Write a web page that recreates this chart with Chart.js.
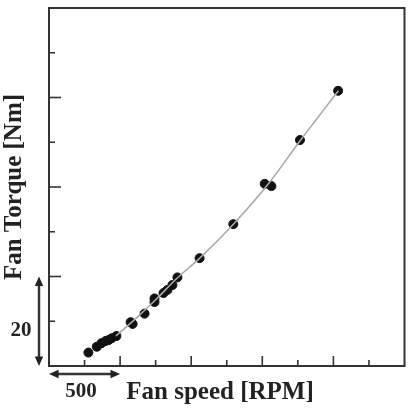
<!DOCTYPE html>
<html>
<head>
<meta charset="utf-8">
<script src="https://cdn.jsdelivr.net/npm/chart.js@4/dist/chart.umd.min.js"></script>
<style>
  html, body { margin: 0; padding: 0; background: #fff; }
  #wrap { width: 410px; height: 408px; }
</style>
</head>
<body>
<div id="wrap"><canvas id="fanChart"></canvas></div>
<script>
// Fan torque vs fan speed: measured points + fitted curve

const speedRpm = [277, 336, 369, 399, 420, 441, 474, 574, 588, 672, 742, 742, 805, 833, 868, 903, 1059, 1296, 1517, 1564, 1765, 2033];
const torqueNm = [3.0, 4.3, 5.1, 5.6, 5.8, 6.2, 6.7, 9.8, 9.4, 11.7, 15.1, 14.3, 16.3, 17.0, 18.1, 19.8, 24.1, 31.7, 40.7, 40.2, 50.5, 61.5];

const fitSpeed = [470, 600, 750, 900, 1060, 1300, 1540, 1770, 2035];
const fitTorque = [6.7, 10.3, 14.8, 19.6, 24.1, 31.8, 40.6, 50.5, 61.5];

const xTitle = 'Fan speed [RPM]';
const yTitle = 'Fan Torque [Nm]';
const xScaleBar = 500;  // RPM shown by the horizontal arrow
const yScaleBar = 20;   // Nm shown by the vertical arrow

const ink = '#222';
const numFont = 'bold 21px "Liberation Serif", "DejaVu Serif", serif';
const titleFont = 'bold 25px "Liberation Serif", "DejaVu Serif", serif';

function arrowHead(ctx, x, y, dir) {
  // dir: 'up','down','left','right'
  const s = 6;
  ctx.beginPath();
  if (dir === 'up') { ctx.moveTo(x, y); ctx.lineTo(x - s * 0.7, y + s * 1.6); ctx.lineTo(x + s * 0.7, y + s * 1.6); }
  if (dir === 'down') { ctx.moveTo(x, y); ctx.lineTo(x - s * 0.7, y - s * 1.6); ctx.lineTo(x + s * 0.7, y - s * 1.6); }
  if (dir === 'left') { ctx.moveTo(x, y); ctx.lineTo(x + s * 1.6, y - s * 0.7); ctx.lineTo(x + s * 1.6, y + s * 0.7); }
  if (dir === 'right') { ctx.moveTo(x, y); ctx.lineTo(x - s * 1.6, y - s * 0.7); ctx.lineTo(x - s * 1.6, y + s * 0.7); }
  ctx.closePath();
  ctx.fill();
}

const framePlugin = {
  id: 'frame',
  afterDraw(chart) {
    const { ctx, chartArea: a, scales: { x, y } } = chart;
    ctx.save();
    ctx.strokeStyle = '#333';
    ctx.fillStyle = ink;
    ctx.lineWidth = 2;
    ctx.strokeRect(a.left, a.top, a.right - a.left, a.bottom - a.top);

    // inward ticks, every other one longer
    ctx.lineWidth = 1.6;
    x.ticks.forEach(t => {
      if (t.value <= x.min || t.value >= x.max) return;
      const px = x.getPixelForValue(t.value);
      const len = (t.value % 500 === 0) ? 10 : 6;
      ctx.beginPath(); ctx.moveTo(px, a.bottom); ctx.lineTo(px, a.bottom - len); ctx.stroke();
    });
    y.ticks.forEach(t => {
      if (t.value <= y.min || t.value >= y.max) return;
      const py = y.getPixelForValue(t.value);
      const len = (t.value % 20 === 0) ? 12 : 6;
      ctx.beginPath(); ctx.moveTo(a.left, py); ctx.lineTo(a.left + len, py); ctx.stroke();
    });

    // scale-bar arrows
    ctx.lineWidth = 2.5;
    const ax = a.left - 10;
    const y0 = y.getPixelForValue(0), y1 = y.getPixelForValue(yScaleBar);
    ctx.beginPath(); ctx.moveTo(ax, y1 + 4); ctx.lineTo(ax, y0 - 4); ctx.stroke();
    arrowHead(ctx, ax, y1, 'up');
    arrowHead(ctx, ax, y0, 'down');

    const ay = a.bottom + 8;
    const x0 = x.getPixelForValue(0), x1 = x.getPixelForValue(xScaleBar);
    ctx.beginPath(); ctx.moveTo(x0 + 4, ay); ctx.lineTo(x1 - 4, ay); ctx.stroke();
    arrowHead(ctx, x0, ay, 'left');
    arrowHead(ctx, x1, ay, 'right');

    // labels
    ctx.font = numFont;
    ctx.textBaseline = 'middle';
    ctx.textAlign = 'center';
    ctx.fillText(String(yScaleBar), 21, y.getPixelForValue(yScaleBar * 0.4));
    ctx.fillText(String(xScaleBar), x.getPixelForValue(xScaleBar * 0.45), a.bottom + 26);

    ctx.font = titleFont;
    ctx.fillText(xTitle, 220, a.bottom + 27);

    ctx.translate(15, (a.top + a.bottom) / 2);
    ctx.rotate(-Math.PI / 2);
    ctx.fillText(yTitle, 0, 0);
    ctx.restore();
  }
};

new Chart(document.getElementById('fanChart'), {
  type: 'scatter',
  data: {
    datasets: [
      {
        label: 'fit',
        type: 'line',
        data: fitSpeed.map((v, i) => ({ x: v, y: fitTorque[i] })),
        borderColor: '#a8a8a8',
        borderWidth: 1.6,
        pointRadius: 0,
        fill: false,
        cubicInterpolationMode: 'monotone'
      },
      {
        label: 'measured',
        data: speedRpm.map((v, i) => ({ x: v, y: torqueNm[i] })),
        backgroundColor: '#111',
        borderColor: '#111',
        pointRadius: 4.5,
        pointHoverRadius: 4.5
      }
    ]
  },
  options: {
    responsive: true, maintainAspectRatio: false,
    animation: false,
    layout: { padding: { left: 49, top: 8, right: 4, bottom: 42 } },
    plugins: { legend: { display: false }, tooltip: { enabled: false } },
    scales: {
      x: {
        type: 'linear', min: 0, max: 2500,
        ticks: { display: false, stepSize: 250 },
        grid: { display: false, drawTicks: false },
        border: { display: false }
      },
      y: {
        min: 0, max: 80,
        ticks: { display: false, stepSize: 10 },
        grid: { display: false, drawTicks: false },
        border: { display: false }
      }
    }
  },
  plugins: [framePlugin]
});
</script>
</body>
</html>
